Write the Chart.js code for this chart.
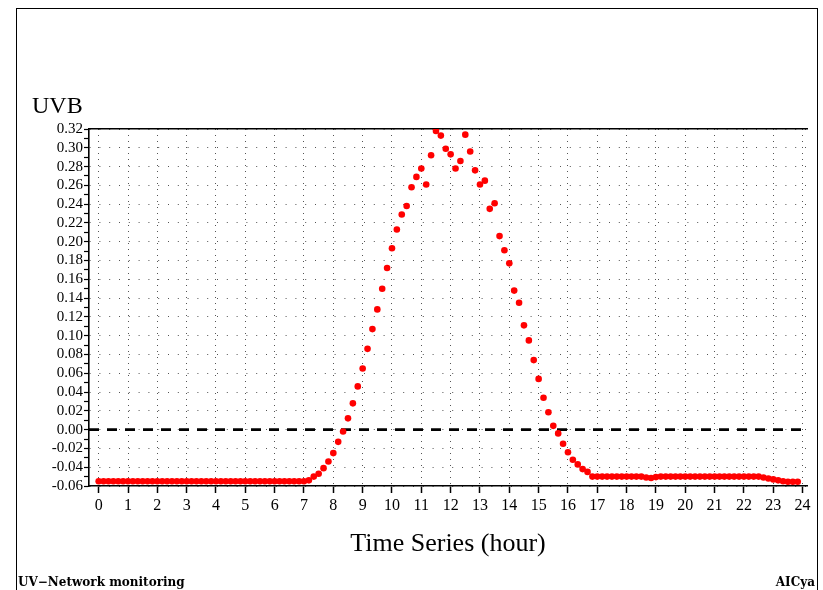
<!DOCTYPE html>
<html><head><meta charset="utf-8">
<script src="https://cdn.jsdelivr.net/npm/chart.js@4"></script>
<style>
html,body{margin:0;padding:0;background:#fff;}
#wrap{position:relative;width:823px;height:590px;overflow:hidden;background:#fff;}
#frame{position:absolute;left:16px;top:8px;width:802px;height:620px;border:1px solid #000;box-sizing:border-box;}
canvas{position:absolute;left:0;top:0;}
.t{position:absolute;font-family:"Liberation Serif",serif;color:#000;white-space:nowrap;line-height:1;}
.f{font-family:"DejaVu Serif",serif;font-weight:bold;font-size:12px;}
</style></head><body>
<div id="wrap">
<div id="frame"></div>
<canvas id="c" width="823" height="590"></canvas>
<div class="t" style="left:32px;top:93px;font-size:24px;">UVB</div>
<div class="t f" style="left:18px;top:576px;">UV−Network monitoring</div>
<div class="t f" style="right:8px;top:576px;">AICya</div>
</div>
<script>
// sampling interval of the record (minutes)
const sampleMinutes = 10;
// UVB values, 00:00 .. 23:50 every 10 minutes
const uvbNight = [
 -0.055,-0.055,-0.055,-0.055,-0.055,-0.055,  // 0h
 -0.055,-0.055,-0.055,-0.055,-0.055,-0.055,  // 1h
 -0.055,-0.055,-0.055,-0.055,-0.055,-0.055,  // 2h
 -0.055,-0.055,-0.055,-0.055,-0.055,-0.055,  // 3h
 -0.055,-0.055,-0.055,-0.055,-0.055,-0.055,  // 4h
 -0.055,-0.055,-0.055,-0.055,-0.055,-0.055,  // 5h
 -0.055,-0.055,-0.055,-0.055,-0.055,-0.055   // 6h
];
const uvbDay = [
 -0.055,-0.054,-0.050,-0.047,-0.041,-0.034,  // 7h
 -0.025,-0.013,-0.002, 0.012, 0.028, 0.046,  // 8h
  0.065, 0.086, 0.107, 0.128, 0.150, 0.172,  // 9h
  0.193, 0.213, 0.229, 0.238, 0.258, 0.269,  // 10h
  0.278, 0.261, 0.292, 0.318, 0.313, 0.299,  // 11h
  0.293, 0.278, 0.286, 0.314, 0.296, 0.276,  // 12h
  0.261, 0.265, 0.235, 0.241, 0.206, 0.191,  // 13h
  0.177, 0.148, 0.135, 0.111, 0.095, 0.074,  // 14h
  0.054, 0.034, 0.0185, 0.004,-0.004,-0.015, // 15h
 -0.024,-0.032,-0.037,-0.042,-0.045,-0.050   // 16h
];
const uvbEvening = [
 -0.050,-0.050,-0.050,-0.050,-0.050,-0.050,  // 17h
 -0.050,-0.050,-0.050,-0.050,-0.051,-0.0515, // 18h
 -0.0505,-0.050,-0.050,-0.050,-0.050,-0.050, // 19h
 -0.050,-0.050,-0.050,-0.050,-0.050,-0.050,  // 20h
 -0.050,-0.050,-0.050,-0.050,-0.050,-0.050,  // 21h
 -0.050,-0.050,-0.050,-0.050,-0.051,-0.052,  // 22h
 -0.053,-0.054,-0.055,-0.0555,-0.0555,-0.0555 // 23h
];
const uvb = uvbNight.concat(uvbDay, uvbEvening);

const hourTicks = [0,1,2,3,4,5,6,7,8,9,10,11,12,13,14,15,16,17,18,19,20,21,22,23,24];
const yTicks = [-0.06,-0.05,-0.04,-0.03,-0.02,-0.01,0.00,0.01,0.02,0.03,0.04,0.05,0.06,0.07,0.08,0.09,0.10,
  0.11,0.12,0.13,0.14,0.15,0.16,0.17,0.18,0.19,0.20,0.21,0.22,0.23,0.24,0.25,0.26,0.27,0.28,0.29,0.30,0.31,0.32];
const yLabelled = [-0.06,-0.04,-0.02,0.00,0.02,0.04,0.06,0.08,0.10,0.12,0.14,0.16,0.18,0.20,0.22,0.24,0.26,0.28,0.30,0.32];
const zeroLine = 0;
const X_MIN = -0.33, X_MAX = 24.15;

const isLabelled = v => yLabelled.some(l => Math.abs(l - v) < 1e-9);
const fontT = {family:'"Liberation Serif", serif'};

new Chart(document.getElementById('c'), {
  type: 'scatter',
  data: {
    datasets: [
      {
        label: 'UVB',
        data: uvb.map((v, i) => ({x: i * sampleMinutes / 60, y: v})),
        backgroundColor: '#ff0000',
        borderColor: '#ff0000',
        pointRadius: 3.3,
        pointBorderWidth: 0,
        showLine: false,
        order: 1
      },
      {
        label: 'zero',
        data: [{x: X_MIN, y: zeroLine}, {x: X_MAX, y: zeroLine}],
        showLine: true,
        borderColor: '#000',
        borderWidth: 2.6,
        borderDash: [10, 8],
        pointRadius: 0,
        order: 2
      }
    ]
  },
  options: {
    responsive: false,
    animation: false,
    layout: {padding: {left: 0, top: 129, right: 16, bottom: 30}},
    plugins: {legend: {display: false}, tooltip: {enabled: false}, title: {display: false}},
    scales: {
      x: {
        type: 'linear', position: 'bottom', min: X_MIN, max: X_MAX,
        afterBuildTicks: s => { s.ticks = hourTicks.map(v => ({value: v})); },
        afterFit: s => { s.height = 74; },
        grid: {color: '#555', lineWidth: 1, drawTicks: true, tickLength: 7, tickColor: '#000', tickWidth: 1.5, tickBorderDash: []},
        border: {display: true, color: '#000', width: 1.6, dash: [1, 5]},
        ticks: {autoSkip: false, maxRotation: 0, color: '#000', padding: 3,
                font: {family: fontT.family, size: 16}, callback: v => String(v)},
        title: {display: true, text: 'Time Series (hour)', color: '#000',
                font: {family: fontT.family, size: 26}, padding: {top: 0, bottom: 0}}
      },
      xTop: {
        type: 'linear', position: 'top', min: X_MIN, max: X_MAX,
        afterFit: s => { s.height = 0; },
        grid: {drawOnChartArea: false, drawTicks: false},
        border: {display: true, color: '#000', width: 1.6},
        ticks: {display: false}
      },
      y: {
        type: 'linear', position: 'left', min: -0.06, max: 0.32,
        afterBuildTicks: s => { s.ticks = yTicks.map(v => ({value: v})); },
        afterFit: s => { s.width = 89; },
        grid: {
          color: c => (c.tick && isLabelled(c.tick.value)) ? '#555' : 'rgba(0,0,0,0)',
          lineWidth: 1, drawTicks: true, tickLength: 5, tickColor: '#000', tickWidth: 1.2, tickBorderDash: []
        },
        border: {display: true, color: '#000', width: 1.6, dash: [1, 8.8]},
        ticks: {autoSkip: false, color: '#000', padding: 1,
                font: {family: fontT.family, size: 15},
                callback: v => isLabelled(v) ? v.toFixed(2) : ''}
      }
    }
  }
});
</script>
</body></html>
